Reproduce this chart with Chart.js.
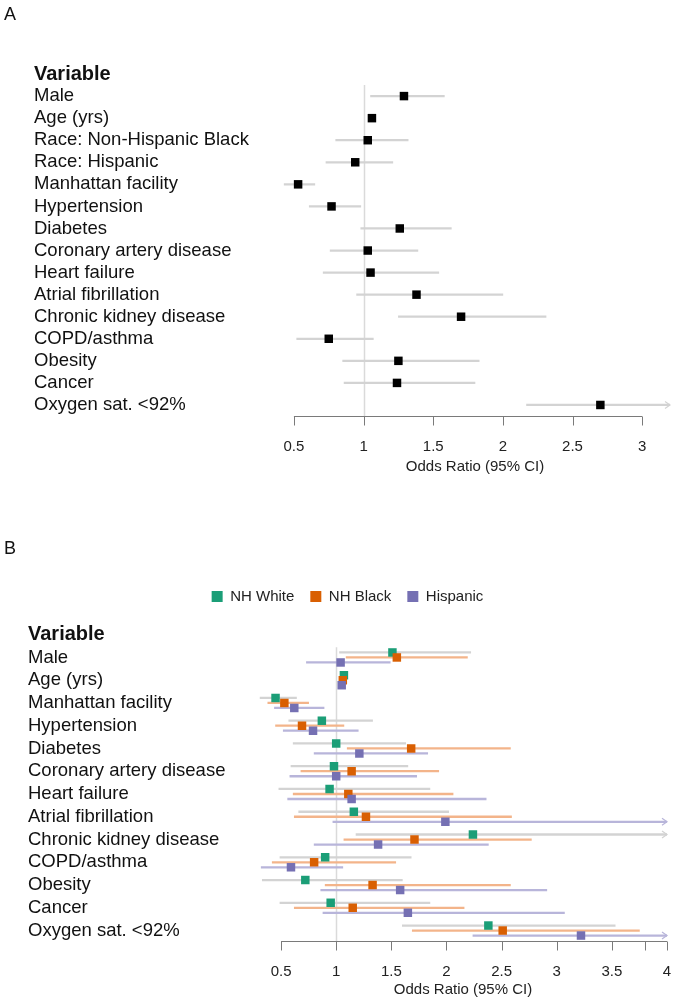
<!DOCTYPE html>
<html>
<head>
<meta charset="utf-8">
<script src="https://cdn.jsdelivr.net/npm/chart.js@4.4.1/dist/chart.umd.min.js"></script>
<style>
  body { margin: 0; background: #fff; }
  #wrap { position: relative; width: 676px; height: 1000px; font-family: 'Liberation Sans', Arial, sans-serif; }
  canvas { position: absolute; left: 0; }
  .panel { position: absolute; left: 4px; font-size: 18px; line-height: 18px; color: #111; }
</style>
</head>
<body>
<div id="wrap">
  <canvas id="chartA" width="676" height="480" style="top:0"></canvas>
  <canvas id="chartB" width="676" height="460" style="top:540px"></canvas>
  <div class="panel" style="top:5px">A</div>
  <div class="panel" style="top:539px">B</div>
</div>
<script>
Chart.defaults.font.family = "'Liberation Sans', Arial, sans-serif";
Chart.defaults.color = '#111';

const header = 'Variable';

// panel A - all patients
const variablesA = ['Male', 'Age (yrs)', 'Race: Non-Hispanic Black', 'Race: Hispanic', 'Manhattan facility',
  'Hypertension', 'Diabetes', 'Coronary artery disease', 'Heart failure', 'Atrial fibrillation',
  'Chronic kidney disease', 'COPD/asthma', 'Obesity', 'Cancer', 'Oxygen sat. <92%'];
const oddsA  = [1.29, 1.06, 1.03, 0.94, 0.53, 0.77, 1.26, 1.03, 1.05, 1.38, 1.70, 0.75, 1.25, 1.24, 2.70];
const lowerA = [1.05, 1.05, 0.80, 0.73, 0.43, 0.61, 0.98, 0.76, 0.71, 0.95, 1.25, 0.52, 0.85, 0.86, 2.17];
const upperA = [1.58, 1.07, 1.32, 1.21, 0.65, 0.98, 1.63, 1.39, 1.54, 2.00, 2.31, 1.07, 1.83, 1.80, 3.36];
const tickValuesA = [0.5, 1, 1.5, 2, 2.5, 3];
const tickLabelsA = ['0.5', '1', '1.5', '2', '2.5', '3'];

// panel B - by race / ethnicity
const variablesB = ['Male', 'Age (yrs)', 'Manhattan facility', 'Hypertension', 'Diabetes',
  'Coronary artery disease', 'Heart failure', 'Atrial fibrillation', 'Chronic kidney disease',
  'COPD/asthma', 'Obesity', 'Cancer', 'Oxygen sat. <92%'];
const groupsB = ['NH White', 'NH Black', 'Hispanic'];
const oddsWhite  = [1.51, 1.07, 0.45, 0.87, 1.00, 0.98, 0.94, 1.16, 2.24, 0.90, 0.72, 0.95, 2.38];
const lowerWhite = [1.03, 1.06, 0.31, 0.57, 0.61, 0.59, 0.48, 0.66, 1.18, 0.49, 0.33, 0.49, 1.60];
const upperWhite = [2.22, 1.08, 0.64, 1.33, 1.63, 1.65, 1.85, 2.02, 4.30, 1.68, 1.60, 1.85, 3.53];
const oddsBlack  = [1.55, 1.06, 0.53, 0.69, 1.68, 1.14, 1.11, 1.27, 1.71, 0.80, 1.33, 1.15, 2.51];
const lowerBlack = [1.09, 1.05, 0.38, 0.45, 1.10, 0.68, 0.61, 0.62, 1.07, 0.42, 0.90, 0.62, 1.69];
const upperBlack = [2.19, 1.07, 0.75, 1.07, 2.58, 1.93, 2.06, 2.59, 2.77, 1.54, 2.58, 2.16, 3.75];
const oddsHisp   = [1.04, 1.05, 0.62, 0.79, 1.21, 1.00, 1.14, 1.99, 1.38, 0.59, 1.58, 1.65, 3.22];
const lowerHisp  = [0.73, 1.04, 0.44, 0.52, 0.80, 0.58, 0.56, 0.97, 0.80, 0.32, 0.86, 0.88, 2.24];
const upperHisp  = [1.49, 1.06, 0.89, 1.20, 1.83, 1.73, 2.36, 4.60, 2.38, 1.06, 2.91, 3.07, 4.40];
const tickValuesB = [0.5, 1, 1.5, 2, 2.5, 3, 3.5, 3.8, 4];
const tickLabelsB = ['0.5', '1', '1.5', '2', '2.5', '3', '3.5', '', '4'];

const oddsB = [oddsWhite, oddsBlack, oddsHisp];
const lowerB = [lowerWhite, lowerBlack, lowerHisp];
const upperB = [upperWhite, upperBlack, upperHisp];
const pointColors = ['#1b9e77', '#d95f02', '#7570b3'];
const ciColors = ['#d3d3d3', '#f3b48a', '#b8b5da'];
const rowShift = [-0.22, 0, 0.22];

// reference line at 1, partial axis line with short ticks, arrows for CIs past the axis
const forestPlugin = {
  id: 'forest',
  beforeDatasetsDraw(chart, args, opts) {
    const { ctx, chartArea } = chart;
    const x = chart.scales.x, y = chart.scales.y;
    const px = Math.round(x.getPixelForValue(1)) + 0.5;
    ctx.save();
    ctx.strokeStyle = '#dadada';
    ctx.lineWidth = 1.5;
    ctx.beginPath();
    ctx.moveTo(px, y.getPixelForValue(opts.refFrom));
    ctx.lineTo(px, chartArea.bottom);
    ctx.stroke();
    ctx.restore();
  },
  afterDatasetsDraw(chart, args, opts) {
    const { ctx, chartArea } = chart;
    const x = chart.scales.x, y = chart.scales.y;
    ctx.save();
    chart.data.datasets.forEach(ds => {
      if (ds.type !== 'bar') return;
      ds.data.forEach(d => {
        if (d.x[1] <= x.max) return;
        const py = y.getPixelForValue(d.y);
        const ex = chartArea.right;
        ctx.strokeStyle = ds.backgroundColor;
        ctx.lineWidth = 1.2;
        ctx.beginPath();
        ctx.moveTo(ex - 5, py - 3.5);
        ctx.lineTo(ex, py);
        ctx.lineTo(ex - 5, py + 3.5);
        ctx.stroke();
      });
    });
    const ay = Math.round(chartArea.bottom) + 0.5;
    ctx.strokeStyle = '#7a7a7a';
    ctx.lineWidth = 1;
    ctx.beginPath();
    ctx.moveTo(x.getPixelForValue(opts.axisFrom), ay);
    ctx.lineTo(x.getPixelForValue(opts.axisTo), ay);
    x.ticks.forEach(t => {
      const tx = Math.round(x.getPixelForValue(t.value)) + 0.5;
      ctx.moveTo(tx, ay);
      ctx.lineTo(tx, ay + 9);
    });
    ctx.stroke();
    ctx.restore();
  }
};

function yAxis(labels, min, max, width) {
  return {
    type: 'linear', reverse: true, offset: false, min: min, max: max,
    afterBuildTicks: s => { s.ticks = labels.map((l, i) => ({ value: i })); },
    afterFit: s => { s.width = width; },
    grid: { display: false, offset: false },
    border: { display: false },
    ticks: {
      autoSkip: false, crossAlign: 'far', color: '#111', padding: 0,
      callback: v => labels[v],
      font: c => (c.tick && c.tick.value === 0) ? { size: 20, weight: 'bold' } : { size: 18.5 }
    }
  };
}

// tickSpace reserves room under the axis; the visible ticks are drawn by the plugin
function xAxis(min, max, values, labels, tickSpace, labelPad, titlePad) {
  return {
    type: 'linear', min: min, max: max, offset: false,
    afterBuildTicks: s => { s.ticks = values.map(v => ({ value: v })); },
    grid: { drawOnChartArea: false, drawTicks: true, tickLength: tickSpace, color: 'rgba(0,0,0,0)' },
    border: { display: false },
    ticks: {
      autoSkip: false, maxRotation: 0, padding: labelPad, color: '#222', font: { size: 15 },
      callback: (v, i) => labels[i]
    },
    title: {
      display: true, text: 'Odds Ratio (95% CI)', color: '#222', font: { size: 15 },
      padding: { top: titlePad, bottom: 0 }
    }
  };
}

new Chart(document.getElementById('chartA'), {
  type: 'scatter',
  data: {
    datasets: [
      {
        label: 'Odds ratio',
        data: oddsA.map((v, i) => ({ x: v, y: i + 1 })),
        pointStyle: 'rect', pointRadius: 6, pointHoverRadius: 6, pointBorderWidth: 0,
        backgroundColor: '#000', borderColor: '#000', order: 1
      },
      {
        type: 'bar', label: '95% CI', indexAxis: 'y',
        data: lowerA.map((v, i) => ({ x: [v, upperA[i]], y: i + 1 })),
        backgroundColor: '#d3d3d3', barThickness: 1.6, grouped: false, order: 2
      }
    ]
  },
  options: {
    responsive: false, animation: false, events: [],
    layout: { padding: { top: 63, left: 34, right: 4, bottom: 4 } },
    plugins: {
      legend: { display: false },
      tooltip: { enabled: false },
      forest: { refFrom: 0.5, axisFrom: 0.5, axisTo: 3 }
    },
    scales: {
      x: xAxis(0.4, 3.2, tickValuesA, tickLabelsA, 20, 2, 0),
      y: yAxis([header].concat(variablesA), -0.5, 15.5, 246)
    }
  },
  plugins: [forestPlugin]
});

const datasetsB = [];
groupsB.forEach((g, k) => {
  datasetsB.push({
    label: g,
    data: oddsB[k].map((v, i) => ({ x: v, y: i + 1 + rowShift[k] })),
    pointStyle: 'rect', pointRadius: 6, pointHoverRadius: 6, pointBorderWidth: 0, borderWidth: 0,
    backgroundColor: pointColors[k], borderColor: pointColors[k], order: 3 - k
  });
});
groupsB.forEach((g, k) => {
  datasetsB.push({
    type: 'bar', label: g + ' CI', indexAxis: 'y',
    data: lowerB[k].map((v, i) => ({ x: [v, upperB[k][i]], y: i + 1 + rowShift[k] })),
    backgroundColor: ciColors[k], barThickness: 1.6, grouped: false, order: 6 - k
  });
});

new Chart(document.getElementById('chartB'), {
  type: 'scatter',
  data: { datasets: datasetsB },
  options: {
    responsive: false, animation: false, events: [],
    layout: { padding: { top: 33, left: 28, right: 9, bottom: 1 } },
    plugins: {
      legend: {
        display: true, position: 'top',
        labels: {
          boxWidth: 11, boxHeight: 11, padding: 16, color: '#222', font: { size: 15 },
          filter: it => it.datasetIndex < 3,
          sort: (a, b) => a.datasetIndex - b.datasetIndex
        }
      },
      tooltip: { enabled: false },
      forest: { refFrom: 0.55, axisFrom: 0.5, axisTo: 4 }
    },
    scales: {
      x: xAxis(0.3, 4, tickValuesB, tickLabelsB, 22, 0, 0),
      y: yAxis([header].concat(variablesB), -0.91, 13.46, 231)
    }
  },
  plugins: [forestPlugin]
});
</script>
</body>
</html>
